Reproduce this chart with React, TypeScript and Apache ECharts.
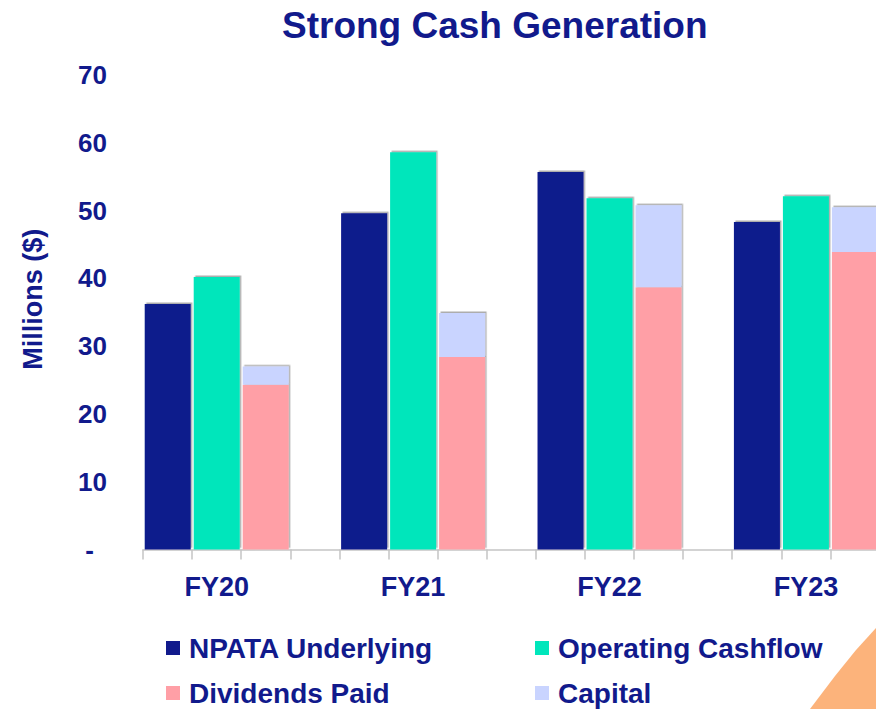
import React, { useEffect, useRef } from "react";
import * as echarts from "echarts";

const categories = ["FY20", "FY21", "FY22", "FY23"];
const npataUnderlying = [36.2, 49.6, 55.7, 48.3];
const operatingCashflow = [40.2, 58.6, 51.8, 52.1];
const dividendsPaid = [24.3, 28.4, 38.7, 43.9];
const capital = [2.7, 6.5, 12.1, 6.6];
const gapSlot = [null, null, null, null];

const NAVY = "#111a8c";
const FONT = '"Liberation Sans", Arial, sans-serif';

export default function App() {
  const ref = useRef<HTMLDivElement>(null);
  useEffect(() => {
    if (!ref.current) return;
    const chart = echarts.init(ref.current, undefined, { renderer: "svg" });
    const shadow = {
      shadowColor: "rgba(0,0,0,0.32)",
      shadowOffsetX: 1.5,
      shadowOffsetY: -1.5,
      shadowBlur: 0,
    };
    const barCommon = { type: "bar", barWidth: 46, barGap: "6.5%" };
    const legendText = {
      fontSize: 28,
      fontWeight: "bold",
      color: NAVY,
      fontFamily: FONT,
      lineHeight: 26,
      padding: [0, 0, 0, 4],
    };
    const mkLegend = (name: string, left: number, top: number) => ({
      data: [name],
      left,
      top,
      padding: 0,
      itemWidth: 14,
      itemHeight: 14,
      icon: "rect",
      textStyle: legendText,
    });
    chart.setOption({
      animation: false,
      textStyle: { fontFamily: FONT },
      title: {
        text: "Strong Cash Generation",
        left: 282,
        top: 5,
        padding: 0,
        textStyle: { fontSize: 37, fontWeight: "bold", color: NAVY, lineHeight: 40, fontFamily: FONT },
      },
      legend: [
        mkLegend("NPATA Underlying", 166, 634),
        mkLegend("Dividends Paid", 166, 679),
        mkLegend("Operating Cashflow", 535, 634),
        mkLegend("Capital", 535, 679),
      ],
      grid: { left: 143, right: 11.4, top: 75, bottom: 159.5 },
      xAxis: [
        {
          type: "category",
          data: categories,
          axisLine: { show: true, lineStyle: { color: "#c4c4c4", width: 1.5 } },
          axisTick: { show: false },
          axisLabel: {
            fontSize: 27,
            fontWeight: "bold",
            color: NAVY,
            fontFamily: FONT,
            margin: 22,
            lineHeight: 30,
            padding: [0, 49, 0, 0],
          },
        },
        {
          type: "value",
          min: 0,
          max: 16,
          interval: 1,
          position: "bottom",
          axisLine: { show: false },
          axisTick: { show: true, length: 10, lineStyle: { color: "#c4c4c4", width: 1.5 } },
          axisLabel: { show: false },
          splitLine: { show: false },
        },
      ],
      yAxis: {
        type: "value",
        min: 0,
        max: 70,
        interval: 10,
        name: "Millions ($)",
        nameLocation: "middle",
        nameGap: 97,
        nameTextStyle: {
          fontSize: 27,
          fontWeight: "bold",
          color: NAVY,
          fontFamily: FONT,
          padding: [0, 0, 0, 26],
        },
        axisLine: { show: false },
        axisTick: { show: false },
        splitLine: { show: false },
        axisLabel: {
          margin: 36,
          fontSize: 26,
          fontWeight: "bold",
          color: NAVY,
          fontFamily: FONT,
          formatter: (v: number) => (v === 0 ? "{d|-}" : String(v)),
          rich: {
            d: { fontSize: 26, fontWeight: "bold", color: NAVY, fontFamily: FONT, padding: [0, 13, 0, 0] },
          },
        },
      },
      series: [
        { ...barCommon, name: "NPATA Underlying", data: npataUnderlying, itemStyle: { color: "#111a8c", ...shadow } },
        { ...barCommon, name: "Operating Cashflow", data: operatingCashflow, itemStyle: { color: "#00e6bb", ...shadow } },
        { ...barCommon, name: "Dividends Paid", stack: "paid", data: dividendsPaid, itemStyle: { color: "#ff9fa6", ...shadow } },
        { ...barCommon, name: "Capital", stack: "paid", data: capital, itemStyle: { color: "#c9d4ff", ...shadow } },
        { ...barCommon, name: "gap", data: gapSlot, itemStyle: { color: "transparent" } },
      ],
      graphic: [
        {
          type: "polygon",
          silent: true,
          shape: {
            points: [
              [810, 709],
              [835, 676],
              [856, 650],
              [876, 628],
              [876, 709],
            ],
          },
          style: { fill: "#fcb37b" },
        },
      ],
    });
    return () => chart.dispose();
  }, []);
  return (
    <div
      style={{
        position: "fixed",
        left: 0,
        top: 0,
        width: 876,
        height: 709,
        overflow: "hidden",
        background: "#ffffff",
      }}
    >
      <div ref={ref} style={{ width: 940, height: 709 }} />
    </div>
  );
}
